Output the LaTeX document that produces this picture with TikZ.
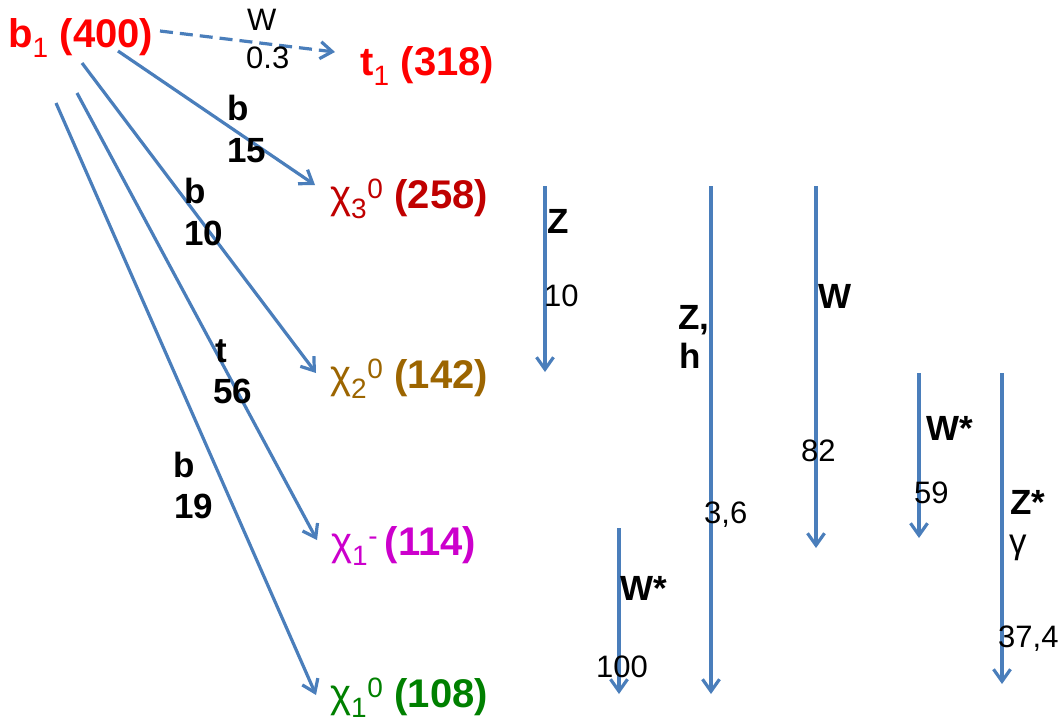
\documentclass[tikz,border=0pt]{standalone}
\usepackage{fontspec}
\setmainfont{Liberation Sans}
\usepackage{xcolor}
\usetikzlibrary{arrows.meta}

\definecolor{decayblue}{RGB}{74,126,187}
\definecolor{sbotred}{RGB}{255,0,0}
\definecolor{neuthree}{RGB}{192,0,0}
\definecolor{neutwo}{RGB}{156,101,0}
\definecolor{charmag}{RGB}{204,0,204}
\definecolor{lspgreen}{RGB}{0,128,0}

\begin{document}
\begin{tikzpicture}[
  x=1pt, y=-1pt,
  state/.style={inner sep=0pt, anchor=base west, font=\fontsize{40}{46}\selectfont},
  chan/.style={inner sep=0pt, anchor=base west, font=\fontsize{35}{42}\selectfont},
  frac/.style={inner sep=0pt, anchor=base west, font=\fontsize{31}{37}\selectfont},
  decay/.style={-{Straight Barb[length=12pt,width=17pt]}, line width=3.2pt, draw=decayblue}
]
\useasboundingbox (0,0) rectangle (1062,724);

% Nodes
\node[state, text=sbotred] (b1) at (8,47) {\textbf{b}\textsubscript{1} \textbf{(400)}};
\node[state, text=sbotred] (t1) at (360,75) {\textbf{t}\textsubscript{1} \textbf{(318)}};
\node[state, text=neuthree] (chi3) at (330,208) {χ\textsubscript{3}\textsuperscript{0} \textbf{(258)}};
\node[state, text=neutwo] (chi2) at (330,388) {χ\textsubscript{2}\textsuperscript{0} \textbf{(142)}};
\node[state, text=charmag] (chim) at (331,555) {χ\textsubscript{1}\textsuperscript{-}\,\textbf{(114)}};
\node[state, text=lspgreen] (chi1) at (330,707) {χ\textsubscript{1}\textsuperscript{0} \textbf{(108)}};

% Start points below b1
\coordinate (bt) at (160,31);
\coordinate (bc3) at (118,51);
\coordinate (bc2) at (82,63);
\coordinate (bcm) at (77,93);
\coordinate (bc1) at (56,103);

% Arrows from b1
\draw[decay, dash pattern=on 13pt off 7pt] (bt) -- ([xshift=-25pt,yshift=23pt]t1.base west);
\draw[decay] (bc3) -- ([xshift=-15pt,yshift=23pt]chi3.base west);
\draw[decay] (bc2) -- ([xshift=-14pt,yshift=15pt]chi2.base west);
\draw[decay] (bcm) -- ([xshift=-14pt,yshift=15pt]chim.base west);
\draw[decay] (bc1) -- ([xshift=-14pt,yshift=12pt]chi1.base west);

% Labels on b1 decays
\node[frac] (wt) at (247,30) {W};
\node[frac] (brt) at (246,68) {0.3};
\node[chan] (qc3) at (227,120) {\textbf{b}};
\node[chan] (brc3) at (227,162) {\textbf{15}};
\node[chan] (qc2) at (184,203) {\textbf{b}};
\node[chan] (brc2) at (184,245) {\textbf{10}};
\node[chan] (qcm) at (215,362) {\textbf{t}};
\node[chan] (brcm) at (213,403) {\textbf{56}};
\node[chan] (qc1) at (173,477) {\textbf{b}};
\node[chan] (brc1) at (174,518) {\textbf{19}};

% Cascade arrows
\coordinate (za) at (545,186);  \coordinate (zb) at (545,372);
\coordinate (ha) at (711,186);  \coordinate (hb) at (711,694);
\coordinate (wa) at (816,186);  \coordinate (wb) at (816,548);
\coordinate (vsa) at (919,373); \coordinate (vsb) at (919,538);
\coordinate (gsa) at (1002,373); \coordinate (gsb) at (1002,684);
\coordinate (ma) at (619,528);  \coordinate (mb) at (619,694);

\draw[decay] (za) -- (zb);
\draw[decay] (ha) -- (hb);
\draw[decay] (wa) -- (wb);
\draw[decay] (vsa) -- (vsb);
\draw[decay] (gsa) -- (gsb);
\draw[decay] (ma) -- (mb);

% Labels on cascades
\node[chan] (zl) at (547,233) {\textbf{Z}};
\node[frac] (zbr) at (544,306) {10};
\node[chan] (zhl) at (678,329) {\textbf{Z,}};
\node[chan] (hl) at (679,368) {\textbf{h}};
\node[frac] (zhbr) at (704,523) {3,6};
\node[chan] (wl) at (818,308) {\textbf{W}};
\node[frac] (wbr) at (801,461) {82};
\node[chan] (vsl) at (926,440) {\textbf{W*}};
\node[frac] (vsbr) at (914,503) {59};
\node[chan] (gsl) at (1010,514) {\textbf{Z*}};
\node[chan] (gl) at (1009,553) {γ};
\node[frac] (gsbr) at (998,647) {37,4};
\node[chan] (ml) at (620,600) {\textbf{W*}};
\node[frac] (mbr) at (596,677) {100};

\end{tikzpicture}
\end{document}
